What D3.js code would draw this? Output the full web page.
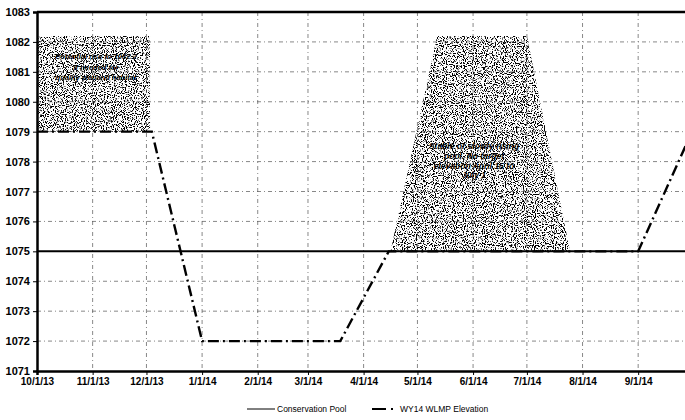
<!DOCTYPE html>
<html>
<head>
<meta charset="utf-8">
<script src="https://d3js.org/d3.v7.min.js"></script>
<style>
  body { margin: 0; background: #fff; }
  svg { display: block; font-family: "Liberation Sans", Arial, sans-serif; }
</style>
</head>
<body>
<svg width="685" height="420"></svg>
<script>
// chart data
const yTicks = [1071, 1072, 1073, 1074, 1075, 1076, 1077, 1078, 1079, 1080, 1081, 1082, 1083];
const monthDates = ["2013-10-01", "2013-11-01", "2013-12-01", "2014-01-01", "2014-02-01", "2014-03-01",
                    "2014-04-01", "2014-05-01", "2014-06-01", "2014-07-01", "2014-08-01", "2014-09-01"];
const monthLabels = ["10/1/13", "11/1/13", "12/1/13", "1/1/14", "2/1/14", "3/1/14",
                     "4/1/14", "5/1/14", "6/1/14", "7/1/14", "8/1/14", "9/1/14"];

const wlmpDates = ["2013-10-01", "2013-12-04", "2014-01-01", "2014-03-19", "2014-04-15", "2014-09-01", "2014-10-01"];
const wlmpElev  = [1079, 1079, 1072, 1072, 1075, 1075, 1079];

const poolDates = ["2013-10-01", "2014-10-01"];
const poolElev  = [1075, 1075];

// shaded zones
const wetlandDates = ["2013-10-01", "2013-10-01", "2013-12-03", "2013-12-03"];
const wetlandElev  = [1079, 1082.2, 1082.2, 1079];
const springDates  = ["2014-04-16", "2014-05-12", "2014-07-01", "2014-07-25"];
const springElev   = [1075, 1082.2, 1082.2, 1075];

const wetlandNote = ["Potential rise to 1082.2", "if needed for", "quality wetland habitat"];
const springNote  = ["Stable or slowly rising", "pool. No target", "elevation April 15 to", "July 1"];

const parse = d3.timeParse("%Y-%m-%d");
const zip = (ds, vs) => ds.map((d, i) => ({ date: parse(d), v: vs[i] }));

const svg = d3.select("svg");

const x = d3.scaleTime()
    .domain([parse("2013-10-01"), parse("2014-10-01")])
    .range([37, 692]);
const y = d3.scaleLinear()
    .domain([1071, 1083])
    .range([371, 12]);

// stipple texture for the shaded zones (scan look)
const defs = svg.append("defs");
const filt = defs.append("filter").attr("id", "stipple")
    .attr("x", 0).attr("y", 0).attr("width", 1).attr("height", 1);
filt.append("feTurbulence")
    .attr("type", "fractalNoise").attr("baseFrequency", 0.9)
    .attr("numOctaves", 1).attr("seed", 3).attr("result", "noise");
filt.append("feColorMatrix").attr("in", "noise").attr("type", "matrix")
    .attr("values", "0 0 0 0 0  0 0 0 0 0  0 0 0 0 0  13 0 0 0 -6.7")
    .attr("result", "dots");
filt.append("feComposite").attr("in", "dots").attr("in2", "SourceGraphic").attr("operator", "in");

const area = d3.line().x(d => x(d.date)).y(d => y(d.v));

svg.append("path")
    .datum(zip(wetlandDates, wetlandElev))
    .attr("d", d => area(d) + "Z")
    .attr("fill", "#222")
    .attr("filter", "url(#stipple)");

svg.append("path")
    .datum(zip(springDates, springElev))
    .attr("d", d => area(d) + "Z")
    .attr("fill", "#222")
    .attr("filter", "url(#stipple)");

// gridlines
const grid = svg.append("g")
    .attr("stroke", "#555")
    .attr("stroke-width", 0.7)
    .attr("stroke-dasharray", "4,3,1,3");

grid.selectAll(".hg")
    .data(yTicks.filter(v => v !== 1071 && v !== 1083 && v !== 1075))
    .enter().append("line")
    .attr("x1", x.range()[0]).attr("x2", x.range()[1])
    .attr("y1", d => y(d)).attr("y2", d => y(d));

grid.selectAll(".vg")
    .data(monthDates.slice(1).map(parse))
    .enter().append("line")
    .attr("x1", d => x(d)).attr("x2", d => x(d))
    .attr("y1", y(1083)).attr("y2", y(1071));

// notes inside shaded zones
svg.append("g")
    .selectAll("text")
    .data(wetlandNote)
    .enter().append("text")
    .attr("x", 96)
    .attr("y", (d, i) => 59 + i * 10.5)
    .attr("text-anchor", "middle")
    .attr("font-size", 7.5)
    .attr("font-weight", "bold")
    .attr("font-style", "italic")
    .attr("fill", "#000")
    .text(d => d);

svg.append("g")
    .selectAll("text")
    .data(springNote)
    .enter().append("text")
    .attr("x", 474)
    .attr("y", (d, i) => 149 + i * 9.8)
    .attr("text-anchor", "middle")
    .attr("font-size", 8.5)
    .attr("font-weight", "bold")
    .attr("font-style", "italic")
    .attr("fill", "#000")
    .text(d => d);

// conservation pool
const line = d3.line().x(d => x(d.date)).y(d => y(d.v));
svg.append("path")
    .datum(zip(poolDates, poolElev))
    .attr("d", line)
    .attr("fill", "none")
    .attr("stroke", "#000")
    .attr("stroke-width", 2);

// WY14 WLMP elevation
svg.append("path")
    .datum(zip(wlmpDates, wlmpElev))
    .attr("d", line)
    .attr("fill", "none")
    .attr("stroke", "#000")
    .attr("stroke-width", 2.4)
    .attr("stroke-dasharray", "11,4,2,4");

// frame top
svg.append("line")
    .attr("x1", x.range()[0]).attr("x2", x.range()[1])
    .attr("y1", y(1083)).attr("y2", y(1083))
    .attr("stroke", "#000").attr("stroke-width", 2.5);

// axes
const yAxis = svg.append("g")
    .attr("transform", `translate(${x.range()[0]},0)`)
    .call(d3.axisLeft(y).tickValues(yTicks).tickFormat(d3.format("d")).tickSize(4).tickPadding(3));
yAxis.select(".domain").attr("stroke-width", 2.5);
yAxis.selectAll("text").attr("font-size", 11).attr("font-weight", "bold").attr("fill", "#000")
    .attr("font-family", "Liberation Sans, Arial, sans-serif");

const xAxis = svg.append("g")
    .attr("transform", `translate(0,${y(1071)})`)
    .call(d3.axisBottom(x).tickValues(monthDates.map(parse))
        .tickFormat((d, i) => monthLabels[i]).tickSize(4).tickPadding(3));
xAxis.select(".domain").attr("stroke-width", 2.5);
xAxis.selectAll("text").attr("font-size", 10).attr("font-weight", "bold").attr("fill", "#000")
    .attr("font-family", "Liberation Sans, Arial, sans-serif");

// legend
const lg = svg.append("g").attr("font-size", 8.5).attr("fill", "#000");
lg.append("line").attr("x1", 247).attr("x2", 275).attr("y1", 409).attr("y2", 409)
    .attr("stroke", "#000").attr("stroke-width", 1);
lg.append("text").attr("x", 277).attr("y", 412).text("Conservation Pool");
lg.append("line").attr("x1", 372).attr("x2", 394).attr("y1", 409).attr("y2", 409)
    .attr("stroke", "#000").attr("stroke-width", 2)
    .attr("stroke-dasharray", "14,5,2,5");
lg.append("text").attr("x", 400).attr("y", 412).text("WY14 WLMP Elevation");
</script>
</body>
</html>
